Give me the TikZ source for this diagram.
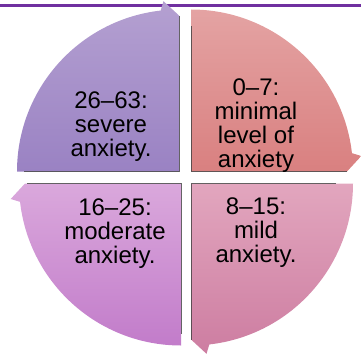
\documentclass[tikz,border=0pt]{standalone}
\usepackage{fontspec}
\setmainfont{Liberation Sans}
\usetikzlibrary{calc}
\definecolor{topline}{RGB}{112,48,160}
\definecolor{puTop}{RGB}{180,160,209}
\definecolor{puBot}{RGB}{154,130,195}
\definecolor{reTop}{RGB}{228,163,163}
\definecolor{reBot}{RGB}{217,128,128}
\definecolor{liTop}{RGB}{218,168,220}
\definecolor{liBot}{RGB}{194,124,202}
\definecolor{piTop}{RGB}{226,166,190}
\definecolor{piBot}{RGB}{205,125,161}
\begin{document}
\begin{tikzpicture}[x=1pt,y=1pt,
  edgeline/.style={draw=black!75, line width=0.7pt, opacity=0.8},
  lbl/.style={font=\fontsize{24}{24}\selectfont, align=center, anchor=base, inner sep=0pt, text=black}]
\useasboundingbox (0,0) rectangle (361,354);
\def\rad{162}
\draw[topline, line width=2.3pt] (0,348.5) -- (361,348.5);
\coordinate (PU) at (179,182.5);
\coordinate (RE) at (191,182.5);
\coordinate (LI) at (181,170.5);
\coordinate (PI) at (191,170.5);
% top-left
\shade[top color=puTop, bottom color=puBot] (PU) -- ($(PU)+(180:\rad)$) arc[start angle=180, end angle=96.5, radius=\rad] -- ($(PU)+(95.2:171)$) -- ($(PU)+(90:156)$) -- cycle;
% top-right
\shade[top color=reTop, bottom color=reBot] (RE) -- ($(RE)+(90:\rad)$) arc[start angle=90, end angle=6.5, radius=\rad] -- ($(RE)+(5.2:171)$) -- ($(RE)+(0:156)$) -- cycle;
% bottom-right
\shade[top color=piTop, bottom color=piBot] (PI) -- ($(PI)+(0:\rad)$) arc[start angle=0, end angle=-83.5, radius=\rad] -- ($(PI)+(-84.8:171)$) -- ($(PI)+(-90:156)$) -- cycle;
% bottom-left
\shade[top color=liTop, bottom color=liBot] (LI) -- ($(LI)+(270:\rad)$) arc[start angle=270, end angle=186.5, radius=\rad] -- ($(LI)+(185.2:171)$) -- ($(LI)+(180:156)$) -- cycle;
% inner edge shadows
\draw[edgeline] ($(PU)+(90:155)$) -- (PU) -- ($(PU)+(180:155)$);
\draw[edgeline] ($(RE)+(90:145)$) -- (RE) -- ($(RE)+(0:156)$);
\draw[edgeline] ($(LI)+(180:154)$) -- (LI) -- ($(LI)+(270:150)$);
\draw[edgeline] ($(PI)+(0:145)$) -- (PI) -- ($(PI)+(270:156)$);
% labels (base anchor = last line's baseline)
\node[lbl] (tPU) at (111,198) {26–63:\\severe\\anxiety.};
\node[lbl] (tRE) at (256,187) {0–7:\\minimal\\level of\\anxiety};
\node[lbl] (tLI) at (115,91) {16–25:\\moderate\\anxiety.};
\node[lbl] (tPI) at (256,92) {8–15:\\mild\\anxiety.};
\end{tikzpicture}
\end{document}
